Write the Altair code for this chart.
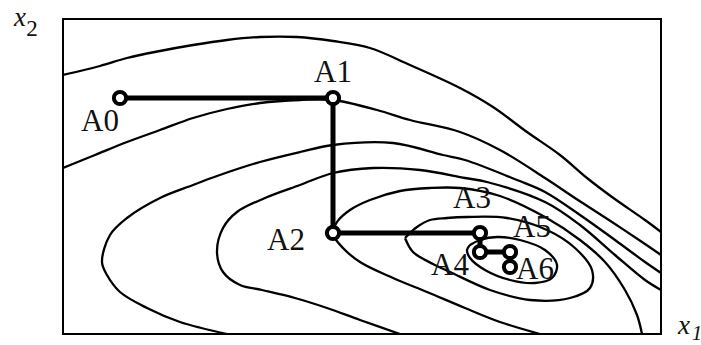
import altair as alt
import pandas as pd

# Level curves of the objective f(x1, x2), traced as (x1, x2) vertices
level_1 = [(0, 259), (37, 268), (64, 276), (97, 283), (130, 289), (164, 294), (197, 297),
           (234, 297), (270, 293), (307, 286), (347, 269), (397, 246), (430, 227), (464, 202),
           (497, 179), (524, 156), (549, 137), (582, 114), (598, 102)]
level_2 = [(0, 166), (32, 179), (64, 192), (97, 204), (130, 216), (164, 225), (197, 231),
           (237, 234), (270, 234), (314, 224), (347, 214), (397, 202), (437, 184), (482, 156),
           (515, 134), (549, 112), (582, 90), (598, 79)]
level_3 = [(164, 0), (117, 12), (84, 26), (57, 42), (44, 59), (39, 72), (47, 99), (64, 116),
           (97, 136), (130, 149), (154, 158), (197, 172), (237, 182), (270, 189), (330, 191),
           (380, 179), (402, 174), (454, 154), (482, 142), (517, 119), (552, 94), (582, 72),
           (598, 61)]
level_4 = [(337, 0), (297, 14), (264, 26), (232, 36), (199, 44), (177, 49), (160, 62),
           (154, 82), (160, 106), (174, 122), (202, 136), (237, 149), (270, 161), (310, 166),
           (357, 164), (402, 156), (424, 152), (482, 132), (517, 109), (552, 79), (582, 54),
           (598, 44)]
level_5 = [(477, 0), (437, 12), (402, 26), (364, 42), (330, 56), (297, 72), (280, 86),
           (270, 100), (274, 112), (287, 124), (307, 134), (337, 143), (367, 146), (397, 146),
           (437, 138), (482, 117), (517, 94), (542, 72), (562, 44), (574, 19), (579, 0)]
level_6 = [(342, 96), (354, 107), (367, 114), (384, 116), (404, 117), (444, 116), (484, 104),
           (512, 86), (529, 64), (527, 46), (507, 36), (467, 34), (427, 44), (387, 62),
           (370, 70), (350, 82), (342, 96)]
level_7 = [(407, 89), (417, 94), (434, 97), (457, 94), (482, 84), (494, 69), (489, 56),
           (472, 51), (447, 54), (422, 64), (407, 76), (404, 84), (407, 89)]

levels = [level_1, level_2, level_3, level_4, level_5, level_6, level_7]

# Coordinate-descent iterates and where their names are written
step_names = ["A0", "A1", "A2", "A3", "A4", "A5", "A6"]
step_x1 = [57, 270, 270, 417, 417, 447, 447]
step_x2 = [236, 236, 101, 101, 82, 82, 67]
label_x1 = [37, 270, 223, 409, 387, 469, 472]
label_x2 = [212, 261, 93, 135, 68, 106, 64]

rows = []
for n, pts in enumerate(levels):
    for k, (a, b) in enumerate(pts):
        rows.append({"curve": f"c{n}", "k": k, "x1": a, "x2": b})
curves = pd.DataFrame(rows)

steps = pd.DataFrame({"name": step_names, "i": list(range(len(step_names))),
                      "x1": step_x1, "x2": step_x2})
labels = pd.DataFrame({"name": step_names, "x1": label_x1, "x2": label_x2})

xs = alt.Scale(domain=[0, 598], nice=False, zero=False)
ys = alt.Scale(domain=[0, 315], nice=False, zero=False)
X = alt.X("x1:Q", scale=xs, axis=None)
Y = alt.Y("x2:Q", scale=ys, axis=None)

serif = "Times New Roman, Liberation Serif, serif"

contours = alt.Chart(curves).mark_line(
    color="black", strokeWidth=2.3, clip=True, interpolate="catmull-rom"
).encode(x=X, y=Y, detail="curve:N", order="k:Q")

path = alt.Chart(steps).mark_line(
    color="black", strokeWidth=5, strokeJoin="miter"
).encode(x=X, y=Y, order="i:Q")

points = alt.Chart(steps).mark_point(
    shape="circle", filled=True, fill="white", stroke="black", strokeWidth=4, size=150, opacity=1
).encode(x=X, y=Y)

names = alt.Chart(labels).mark_text(
    font=serif, fontSize=31, color="#111", align="center", baseline="middle"
).encode(x=X, y=Y, text="name:N")


def sym(text, px, py, size, italic=True):
    return alt.Chart(pd.DataFrame({"s": [text]})).mark_text(
        font=serif, fontSize=size, fontStyle="italic" if italic else "normal",
        color="#111", align="center", baseline="middle"
    ).encode(x=alt.value(px), y=alt.value(py), text="s:N")


x2_title = sym("x", -43, -1, 27) + sym("2", -31, 10, 23, italic=False)
x1_title = sym("x", 621, 307, 27) + sym("1", 634, 315, 21)

chart = alt.layer(contours, path, points, names, x2_title, x1_title).properties(
    width=598, height=315,
    padding={"left": 63, "top": 19, "right": 40, "bottom": 11},
    autosize=alt.AutoSizeParams(type="none"),
    background="white",
).configure_view(stroke="black", strokeWidth=2)

chart.save("out.html", embed_options={"renderer": "svg", "actions": False})
